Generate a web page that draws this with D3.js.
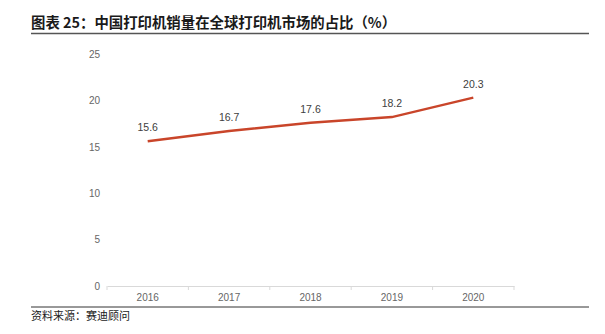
<!DOCTYPE html>
<html><head><meta charset="utf-8">
<script src="https://cdn.jsdelivr.net/npm/d3@7"></script>
<style>body{margin:0;background:#fff}svg{display:block}</style>
</head><body>
<svg id="c" width="605" height="334"></svg>
<script>
const categories = ["2016","2017","2018","2019","2020"];
const values = [15.6,16.7,17.6,18.2,20.3];
const yTicks = [0,5,10,15,20,25];
const title = "图表 25：中国打印机销量在全球打印机市场的占比（%）";
const source = "资料来源：赛迪顾问";

const svg = d3.select("#c");
const cjk = "'Noto Sans CJK SC','Noto Sans',sans-serif";
const lat = "'Liberation Sans',Arial,sans-serif";

svg.append("text").attr("x",31).attr("y",28).attr("font-family",cjk)
  .attr("font-weight","bold").attr("font-size",14.4).attr("fill","#1a1a1a").text(title);
svg.append("line").attr("x1",31).attr("x2",589).attr("y1",33.5).attr("y2",33.5)
  .attr("stroke","#555").attr("stroke-width",1.5);

const x = d3.scaleBand().domain(categories).range([107,514]);
const y = d3.scaleLinear().domain([0,25]).range([286,54]);

const gy = svg.append("g").attr("transform","translate(107,0)")
  .call(d3.axisLeft(y).tickValues(yTicks).tickSize(0).tickPadding(7));
gy.select(".domain").remove();
gy.selectAll("text").attr("font-family",lat).attr("font-size",10).attr("fill","#666");

const gx = svg.append("g").attr("transform","translate(0,286)")
  .call(d3.axisBottom(x).tickSize(0).tickPadding(8));
gx.select(".domain").attr("stroke","#d9d9d9");
gx.selectAll("text").attr("font-family",lat).attr("font-size",10).attr("fill","#666");
const bounds = categories.map(c=>x(c)).concat([x.range()[1]]);
svg.append("g").selectAll("line").data(bounds).join("line")
  .attr("x1",d=>d).attr("x2",d=>d).attr("y1",286).attr("y2",290).attr("stroke","#d9d9d9");

const line = d3.line().x((d,i)=>x(categories[i])+x.bandwidth()/2).y(d=>y(d));
svg.append("path").datum(values).attr("d",line).attr("fill","none")
  .attr("stroke","#c9452a").attr("stroke-width",2.5);

svg.append("g").selectAll("text").data(values).join("text")
  .attr("x",(d,i)=>x(categories[i])+x.bandwidth()/2).attr("y",d=>y(d)-10)
  .attr("text-anchor","middle").attr("font-family",lat).attr("font-size",10.5)
  .attr("fill","#404040").text(d=>d.toFixed(1));

svg.append("line").attr("x1",31).attr("x2",589).attr("y1",307).attr("y2",307)
  .attr("stroke","#333").attr("stroke-width",1);
svg.append("text").attr("x",31).attr("y",320).attr("font-family",cjk)
  .attr("font-size",11).attr("fill","#1a1a1a").text(source);
</script>
</body></html>
